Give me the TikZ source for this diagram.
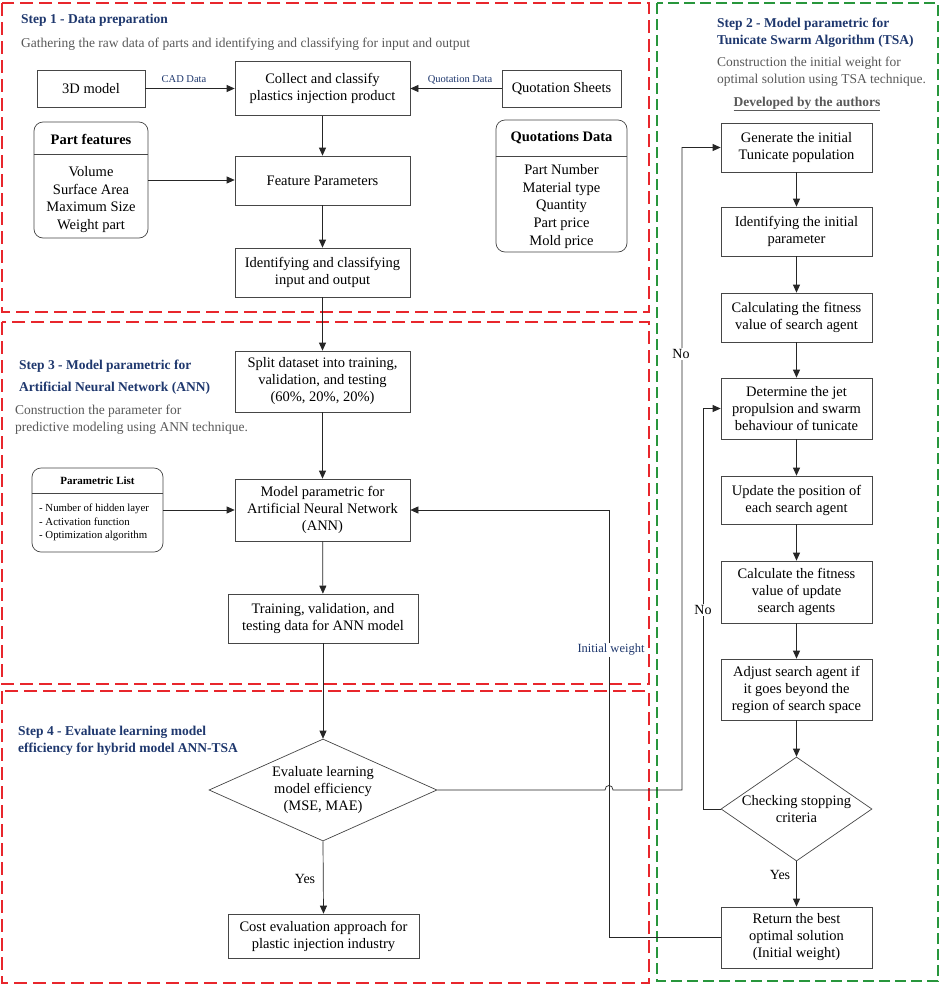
\documentclass[tikz,border=0pt]{standalone}
\usepackage{fontspec}
\setmainfont{Liberation Serif}
\usetikzlibrary{arrows.meta,shapes.geometric}
\definecolor{navy}{RGB}{31,56,110}
\definecolor{subg}{RGB}{89,89,89}
\definecolor{fred}{RGB}{232,38,44}
\definecolor{fgreen}{RGB}{40,150,60}
\definecolor{edgec}{RGB}{70,70,70}
\begin{document}
\begin{tikzpicture}[x=1pt,y=-1pt,
  box/.style={draw=edgec, line width=0.7pt, fill=white, align=center, inner sep=0pt, font=\fontsize{14.5}{17}\selectfont},
  rbox/.style={draw=edgec, line width=0.7pt, rounded corners=9pt, inner sep=0pt},
  dia/.style={diamond, draw=edgec, line width=0.7pt, inner sep=0pt},
  txt/.style={align=center, inner sep=0pt, font=\fontsize{14.5}{17}\selectfont},
  hdr/.style={inner sep=0pt, font=\bfseries\fontsize{14.5}{17}\selectfont},
  flow/.style={draw=black!85, line width=0.7pt, -{Triangle[length=8pt,width=7pt]}},
  title/.style={anchor=west, align=left, inner sep=0pt, text=navy, font=\bfseries\fontsize{13.5}{17}\selectfont},
  sub/.style={anchor=west, align=left, inner sep=0pt, text=subg, font=\fontsize{13.5}{17}\selectfont},
  lbl/.style={inner sep=0pt, text=navy, font=\fontsize{10.5}{12}\selectfont},
  yn/.style={inner sep=1.5pt, fill=white, font=\fontsize{14}{16}\selectfont},
  framered/.style={draw=fred, line width=1.8pt, dash pattern=on 13pt off 6pt},
  framegreen/.style={draw=fgreen, line width=1.8pt, dash pattern=on 11pt off 5pt}
]
\useasboundingbox (0,0) rectangle (941,986);
\fill[white] (0,0) rectangle (941,986);
% frames
\draw[framered] (2,3) rectangle (649,312);
\draw[framered] (2,322) rectangle (649,684);
\draw[framered] (2,691) rectangle (649,983);
\draw[framegreen] (657,3) rectangle (938,981);

% titles
\node[title] (t1) at (21,20) {Step 1 - Data preparation};
\node[sub] (s1) at (21,44) {Gathering the raw data of parts and identifying and classifying for input and output};
\node[title] (t2) at (717,32.5) {Step 2 - Model parametric for\\Tunicate Swarm Algorithm (TSA)};
\node[sub] (s2) at (717,71.5) {Construction the initial weight for\\optimal solution using TSA technique.};
\node[inner sep=0pt, text=subg, font=\bfseries\fontsize{13.5}{17}\selectfont] (dev) at (807,104) {\underline{Developed by the authors}};
\node[title, font=\bfseries\fontsize{13.5}{22}\selectfont] (t3) at (19,377) {Step 3 - Model parametric for\\Artificial Neural Network (ANN)};
\node[sub] (s3) at (15,419.5) {Construction the parameter for\\predictive modeling using ANN technique.};
\node[title] (t4) at (18,740.5) {Step 4 - Evaluate learning model\\efficiency for hybrid model ANN-TSA};

% step 1 nodes
\node[box, minimum width=108pt, minimum height=37pt] (m3d) at (91,88.5) {3D model};
\node[box, minimum width=175pt, minimum height=54pt] (collect) at (322.5,88.5) {Collect and classify\\plastics injection product};
\node[box, minimum width=119pt, minimum height=37pt] (qs) at (561.5,88.5) {Quotation Sheets};
\node[lbl] (cadl) at (184,79) {CAD Data};
\node[lbl] (qdl) at (460,80) {Quotation Data};

\node[rbox, minimum width=114pt, minimum height=116pt] (partf) at (91,180) {};
\draw[draw=edgec, line width=0.7pt] (partf.west |- 0,154) -- (partf.east |- 0,154);
\node[hdr] (partfh) at (91,139) {Part features};
\node[txt, font=\fontsize{14.5}{17.7}\selectfont] (partfb) at (91,199.5) {Volume\\Surface Area\\Maximum Size\\Weight part};

\node[box, minimum width=175pt, minimum height=49pt] (feat) at (322.5,180.5) {Feature Parameters};
\node[box, minimum width=175pt, minimum height=49pt] (ident) at (322.5,272.5) {Identifying and classifying\\input and output};

\node[rbox, minimum width=131pt, minimum height=132pt] (quot) at (561.5,186) {};
\draw[draw=edgec, line width=0.7pt] (quot.west |- 0,156) -- (quot.east |- 0,156);
\node[hdr] (quoth) at (561.5,138) {Quotations Data};
\node[txt, font=\fontsize{14.5}{17.75}\selectfont] (quotb) at (561.5,206.5) {Part Number\\Material type\\Quantity\\Part price\\Mold price};

% step 3 nodes
\node[box, minimum width=175pt, minimum height=61pt] (split) at (322.5,381.5) {Split dataset into training,\\validation, and testing\\(60\%, 20\%, 20\%)};
\node[box, minimum width=175pt, minimum height=62pt] (ann) at (322.5,510) {Model parametric for\\Artificial Neural Network\\(ANN)};
\node[box, minimum width=190pt, minimum height=49pt] (train) at (323,618.5) {Training, validation, and\\testing data for ANN model};

\node[rbox, minimum width=131pt, minimum height=84pt] (plist) at (97.5,510) {};
\draw[draw=edgec, line width=0.7pt] (plist.west |- 0,493) -- (plist.east |- 0,493);
\node[inner sep=0pt, font=\bfseries\fontsize{11}{13}\selectfont] (plisth) at (97.5,481) {Parametric List};
\node[anchor=west, align=left, inner sep=0pt, font=\fontsize{10.8}{13.5}\selectfont] (plistb) at (39,522.5) {- Number of hidden layer\\- Activation function\\- Optimization algorithm};

% step 4 nodes
\node[dia, minimum width=228pt, minimum height=102pt] (eval) at (323,790) {};
\node[txt] (evalt) at (323,790) {Evaluate learning\\model efficiency\\(MSE, MAE)};
\node[box, minimum width=191pt, minimum height=44pt] (cost) at (323.5,936) {Cost evaluation approach for\\plastic injection industry};

% step 2 nodes
\node[box, minimum width=151pt, minimum height=49pt] (gen) at (796.5,147.5) {Generate the initial\\Tunicate population};
\node[box, minimum width=151pt, minimum height=49pt] (idp) at (796.5,231.5) {Identifying the initial\\parameter};
\node[box, minimum width=151pt, minimum height=49pt] (calc) at (796.5,317.5) {Calculating the fitness\\value of search agent};
\node[box, minimum width=151pt, minimum height=61pt] (jet) at (796.5,408.5) {Determine the jet\\propulsion and swarm\\behaviour of tunicate};
\node[box, minimum width=151pt, minimum height=48pt] (upd) at (796.5,500) {Update the position of\\each search agent};
\node[box, minimum width=151pt, minimum height=62pt] (calcu) at (796.5,592) {Calculate the fitness\\value of update\\search agents};
\node[box, minimum width=151pt, minimum height=61pt] (adj) at (796.5,689.5) {Adjust search agent if\\it goes beyond the\\region of search space};
\node[dia, minimum width=151pt, minimum height=104pt] (check) at (796.5,809) {};
\node[txt] (checkt) at (796.5,809.5) {Checking stopping\\criteria};
\node[box, minimum width=151pt, minimum height=61pt] (ret) at (796.5,937.5) {Return the best\\optimal solution\\(Initial weight)};

% connectors step 1
\draw[flow] (m3d.east) -- (m3d.east -| collect.west);
\draw[flow] (qs.west) -- (qs.west -| collect.east);
\draw[flow] (collect) -- (feat);
\draw[flow] (partf.east) -- (partf.east -| feat.west);
\draw[flow] (feat) -- (ident);
\draw[flow] (ident) -- (split);
\draw[flow] (split) -- (ann);
\draw[flow] (plist.east) -- (plist.east -| ann.west);
\draw[flow] (ann) -- (train);
\draw[flow] (train.south) -- (eval.north);
\draw[flow] (eval.south) -- (cost.north);
\node[yn] (yes1) at (305,879) {Yes};

% step 2 chain
\draw[flow] (gen) -- (idp);
\draw[flow] (idp) -- (calc);
\draw[flow] (calc) -- (jet);
\draw[flow] (jet) -- (upd);
\draw[flow] (upd) -- (calcu);
\draw[flow] (calcu) -- (adj);
\draw[flow] (adj) -- (check.north);
\draw[flow] (check.south) -- (ret);
\node[yn] (yes2) at (780,875) {Yes};

% initial weight feedback
\coordinate (iwb) at (609,937.5);
\coordinate (iwt) at (609,510);
\draw[flow] (ret.west) -- (iwb) -- (iwt) -- (ann.east);
\node[lbl, fill=white, inner sep=1.5pt, font=\fontsize{12.5}{14}\selectfont] (iwl) at (611,650) {Initial weight};

% evaluate -> No loop
\coordinate (j1) at (605,790);
\coordinate (j2) at (613,790);
\coordinate (nob) at (682,790);
\coordinate (notp) at (682,147.5);
\draw[flow] (eval.east) -- (j1) .. controls (605,784) and (613,784) .. (j2) -- (nob) -- (notp) -- (gen.west);
\node[yn] (no1) at (681,354) {No};

% checking -> No loop
\coordinate (c1) at (703,809);
\coordinate (c2) at (703,408.5);
\draw[flow] (check.west) -- (c1) -- (c2) -- (jet.west);
\node[yn] (no2) at (703,610) {No};
\end{tikzpicture}
\end{document}
